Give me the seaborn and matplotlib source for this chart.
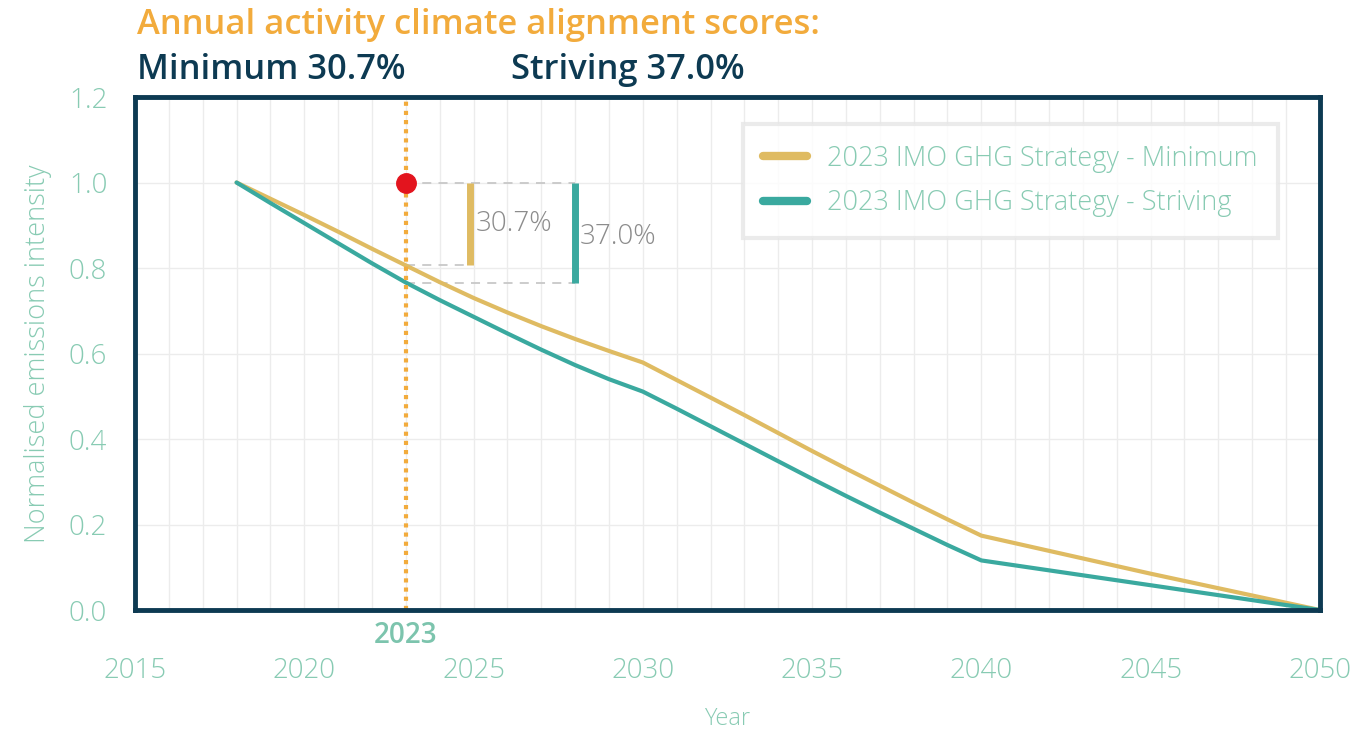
import numpy as np
import pandas as pd
import matplotlib
matplotlib.use('Agg')
import matplotlib.pyplot as plt
import seaborn as sns
from matplotlib.ticker import MultipleLocator
from matplotlib.lines import Line2D

# data
years = [2018, 2019, 2020, 2021, 2022, 2023, 2024, 2025, 2026, 2027, 2028, 2029, 2030,
         2031, 2032, 2033, 2034, 2035, 2036, 2037, 2038, 2039, 2040, 2045, 2050]
minimum = [1.0, 0.962, 0.924, 0.885, 0.845, 0.806, 0.767, 0.730, 0.696, 0.664, 0.634, 0.606, 0.579,
           0.538, 0.497, 0.456, 0.414, 0.372, 0.331, 0.291, 0.251, 0.212, 0.174, 0.085, 0.0]
striving = [1.0, 0.952, 0.905, 0.858, 0.811, 0.766, 0.725, 0.686, 0.647, 0.609, 0.573, 0.540, 0.511,
            0.471, 0.430, 0.389, 0.348, 0.307, 0.267, 0.228, 0.190, 0.152, 0.116, 0.058, 0.0]
names = ['2023 IMO GHG Strategy - Minimum', '2023 IMO GHG Strategy - Striving']
scores = [30.7, 37.0]
current_year = 2023
current_value = 1.0
xticks = [2015, 2020, 2025, 2030, 2035, 2040, 2045, 2050]
yticks = [0.0, 0.2, 0.4, 0.6, 0.8, 1.0, 1.2]

c_min = '#dfbb62'
c_str = '#3aa99f'
c_tick = '#88cbb3'
c_navy = '#0d3a52'
c_orange = '#f2ab3c'

df = pd.concat([
    pd.DataFrame({'Year': years, 'value': minimum, 'Strategy': names[0]}),
    pd.DataFrame({'Year': years, 'value': striving, 'Strategy': names[1]}),
])

sns.set_style('white')
plt.rcParams['font.family'] = ['Open Sans', 'DejaVu Sans']

fig = plt.figure(figsize=(13.72, 7.31), dpi=100)
ax = fig.add_axes([0.0984, 0.1655, 0.8636, 0.7018])

sns.lineplot(data=df, x='Year', y='value', hue='Strategy', palette=[c_min, c_str],
             linewidth=3, ax=ax, legend=False, zorder=3)

ax.set_xlim(2015, 2050)
ax.set_ylim(0, 1.2)
ax.set_xticks(xticks)
ax.set_yticks(yticks)
ax.set_yticklabels([f'{v:.1f}' for v in yticks])
ax.xaxis.set_minor_locator(MultipleLocator(1))
ax.grid(True, which='both', axis='x', color='#ececec', linewidth=1)
ax.grid(True, which='major', axis='y', color='#ececec', linewidth=1)
ax.set_axisbelow(True)

for s in ax.spines.values():
    s.set_color(c_navy)
    s.set_linewidth(3.5)
    s.set_zorder(5)

ax.tick_params(axis='both', which='major', color=c_orange, width=2, length=10,
               labelcolor=c_tick, labelsize=20, direction='out')
ax.tick_params(axis='x', which='major', pad=24)
ax.tick_params(axis='y', which='major', pad=6, length=14)
ax.tick_params(which='minor', length=0)
for lab in ax.get_xticklabels() + ax.get_yticklabels():
    lab.set_fontweight('light')

ax.set_xlabel('Year', color=c_tick, fontsize=17, labelpad=16, fontweight='light')
ax.set_ylabel('Normalised emissions intensity', color=c_tick, fontsize=19.5, labelpad=12,
              fontweight='light')

# current year marker
ax.axvline(current_year, color=c_orange, linestyle=(0, (1, 1.2)), linewidth=3, zorder=4)
ax.plot(current_year, current_value, 'o', color='#e3141e', markersize=14, zorder=6, clip_on=False)
ax.text(current_year, -0.025, str(current_year), ha='center', va='top',
        color='#7cc4ad', fontsize=20, fontweight='semibold')

# gap brackets
min_now = minimum[years.index(current_year)]
str_now = striving[years.index(current_year)]
bar_x = [2024.9, 2028.0]
dash = dict(color='#c8c8c8', linestyle=(0, (5, 4)), linewidth=1.3, zorder=2)
ax.plot([current_year, bar_x[1]], [current_value, current_value], **dash)
ax.plot([current_year, bar_x[0]], [min_now, min_now], **dash)
ax.plot([current_year, bar_x[1]], [str_now, str_now], **dash)
ax.plot([bar_x[0], bar_x[0]], [current_value, min_now], color=c_min, linewidth=5, zorder=4, solid_capstyle='butt')
ax.plot([bar_x[1], bar_x[1]], [current_value, str_now], color=c_str, linewidth=5, zorder=4, solid_capstyle='butt')
ax.text(bar_x[0] + 0.15, (current_value + min_now) / 2, f'{scores[0]:.1f}%', color='#8c8c8c',
        fontsize=20, va='center', ha='left', fontweight='light')
ax.text(bar_x[1] + 0.15, (current_value + str_now) / 2 - 0.01, f'{scores[1]:.1f}%', color='#8c8c8c',
        fontsize=20, va='center', ha='left', fontweight='light')

handles = [Line2D([], [], color=c_min, linewidth=6), Line2D([], [], color=c_str, linewidth=6)]
leg = ax.legend(handles, names, loc='upper right', bbox_to_anchor=(0.9646, 0.947), fontsize=19.5,
                labelcolor=c_tick, frameon=True, fancybox=False, borderpad=0.75, borderaxespad=0,
                handlelength=1.6, handletextpad=0.75, labelspacing=0.62)
leg.get_frame().set_edgecolor('#e6e6e6')
leg.get_frame().set_linewidth(3)
for t in leg.get_texts():
    t.set_fontweight('light')

fig.text(137 / 1372, 1 - 25 / 731, 'Annual activity climate alignment scores:', color=c_orange,
         fontsize=24.8, fontweight='semibold', va='center', ha='left')
fig.text(137 / 1372, 1 - 70 / 731, f'Minimum {scores[0]:.1f}%', color=c_navy,
         fontsize=24.8, fontweight='semibold', va='center', ha='left')
fig.text(511 / 1372, 1 - 70 / 731, f'Striving {scores[1]:.1f}%', color=c_navy,
         fontsize=24.8, fontweight='semibold', va='center', ha='left')

fig.savefig('out.png', dpi=100)
